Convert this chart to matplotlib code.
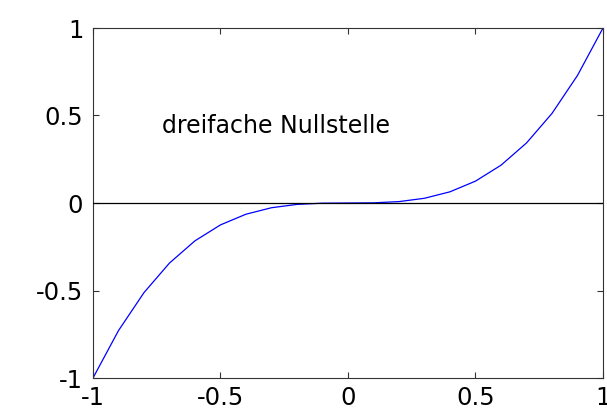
import numpy as np
import matplotlib.pyplot as plt

plt.rcParams['font.family'] = ['DejaVu Sans']

# points
x_vals = [-1.0, -0.9, -0.8, -0.7, -0.6, -0.5, -0.4, -0.3, -0.2, -0.1, 0.0,
          0.1, 0.2, 0.3, 0.4, 0.5, 0.6, 0.7, 0.8, 0.9, 1.0]
y_vals = [-1.0, -0.729, -0.512, -0.343, -0.216, -0.125, -0.064, -0.027, -0.008, -0.001, 0.0,
          0.001, 0.008, 0.027, 0.064, 0.125, 0.216, 0.343, 0.512, 0.729, 1.0]
x_ticks = [-1, -0.5, 0, 0.5, 1]
y_ticks = [-1, -0.5, 0, 0.5, 1]
tick_labels = ['-1', '-0.5', '0', '0.5', '1']
label_text = 'dreifache Nullstelle'

fig = plt.figure(figsize=(6.07, 4.11), dpi=100)
ax = fig.add_axes([93/607, 1 - 378/411, 510/607, 350/411])

ax.axhline(0, color='black', lw=0.9, zorder=3)
ax.plot(x_vals, y_vals, color='#0000ff', lw=0.9, zorder=2)
ax.text(-0.73, 0.40, label_text, fontsize=17, color='black', va='baseline')

ax.set_xlim(-1, 1)
ax.set_ylim(-1, 1)
ax.set_xticks(x_ticks)
ax.set_xticklabels(tick_labels)
ax.set_yticks(y_ticks)
ax.set_yticklabels(tick_labels)
ax.tick_params(direction='in', top=True, right=True, length=4, width=0.8,
               labelsize=17.5, colors='#333333', labelcolor='black')
ax.tick_params(axis='x', pad=6)
ax.tick_params(axis='y', pad=7)
for s in ax.spines.values():
    s.set_color('#333333')
    s.set_linewidth(0.8)

fig.savefig('out.png', dpi=100)
